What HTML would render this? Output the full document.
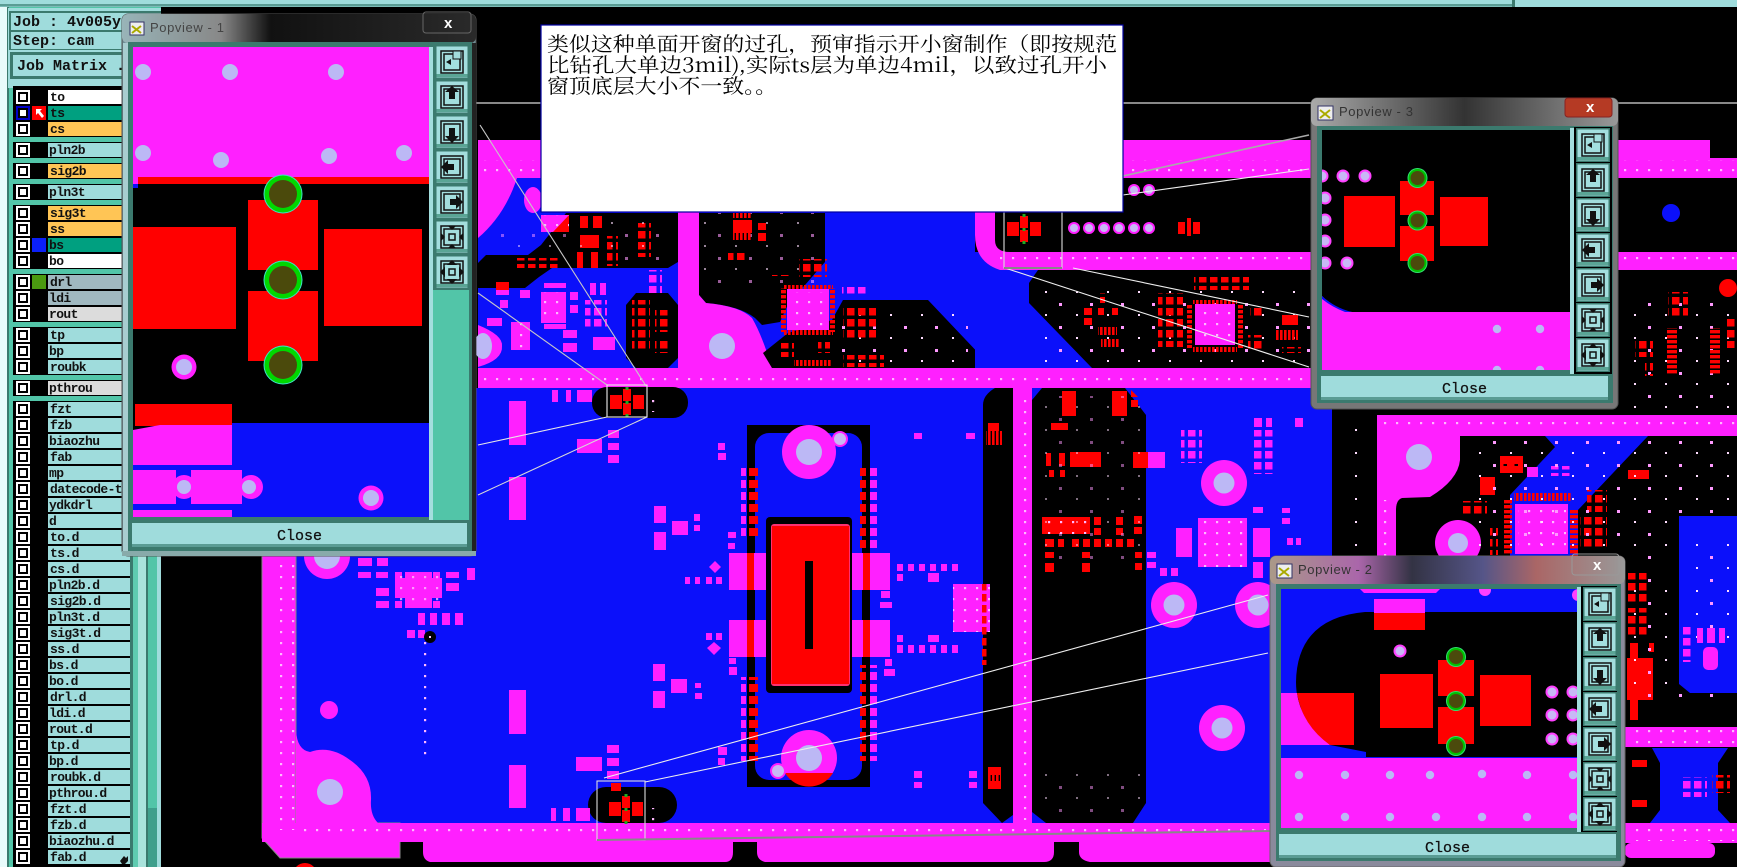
<!DOCTYPE html>
<html><head><meta charset="utf-8"><style>
html,body{margin:0;padding:0;background:#000;overflow:hidden}
svg{display:block}
.r{font:bold 13px "Liberation Mono",monospace;letter-spacing:-.6px;fill:#111}
.m{font:bold 15px "Liberation Mono",monospace;fill:#111}
.c{font:15px "Liberation Mono",monospace;fill:#111;stroke:#111;stroke-width:.3}
.t{font:13px "Liberation Sans",sans-serif;letter-spacing:.6px;fill:#333}
.z{font:20px "Noto Serif CJK SC","Liberation Serif",serif;fill:#000}
</style></head><body>
<svg xmlns="http://www.w3.org/2000/svg" width="1737" height="867" viewBox="0 0 1737 867">
<defs>
<pattern id="wd" width="12" height="11" patternUnits="userSpaceOnUse"><rect x="4" y="4" width="2.2" height="2.2" fill="#ffb8ff"/></pattern>
<pattern id="pd" width="31" height="23" patternUnits="userSpaceOnUse"><rect x="5" y="4" width="3" height="3" fill="#f9f"/><rect x="22" y="15" width="2" height="2" fill="#fdf"/></pattern>
<pattern id="rg" width="11" height="11" patternUnits="userSpaceOnUse"><rect width="7.5" height="7.5" fill="#f00"/></pattern>
<pattern id="mg" width="11" height="11" patternUnits="userSpaceOnUse"><rect width="7.5" height="7.5" fill="#ff20ff"/></pattern>
<pattern id="rc" width="7" height="5" patternUnits="userSpaceOnUse"><rect width="7" height="3.4" fill="#f00"/></pattern>
<pattern id="rv" width="4" height="7" patternUnits="userSpaceOnUse"><rect width="2.6" height="7" fill="#f00"/></pattern>
<pattern id="p1" width="6" height="12" patternUnits="userSpaceOnUse"><rect width="6" height="8" fill="#f00"/></pattern>
<pattern id="p2" width="7" height="12" patternUnits="userSpaceOnUse"><rect width="7" height="8" fill="#ff20ff"/></pattern>
<linearGradient id="g1" x1="0" x2="1" y1="0" y2="0"><stop offset="0" stop-color="#98b4b8"/><stop offset=".28" stop-color="#888"/><stop offset=".42" stop-color="#111"/><stop offset="1" stop-color="#2a2a2a"/></linearGradient>
<linearGradient id="g3" x1="0" x2="1" y1="0" y2="0"><stop offset="0" stop-color="#aaa"/><stop offset=".5" stop-color="#333"/><stop offset="1" stop-color="#999"/></linearGradient>
<linearGradient id="g2" x1="0" x2="1" y1="0" y2="0"><stop offset="0" stop-color="#a98"/><stop offset=".25" stop-color="#a6a"/><stop offset=".4" stop-color="#334"/><stop offset=".6" stop-color="#558"/><stop offset=".75" stop-color="#a66"/><stop offset="1" stop-color="#999"/></linearGradient>
<symbol id="btn" width="34" height="34" viewBox="0 0 34 34">
<rect width="34" height="34" fill="#3b7a6e"/><rect x="1.5" y="1.5" width="31" height="31" fill="#a3dede"/><rect x="1.5" y="29" width="31" height="3" fill="#5aa595"/><rect x="6" y="6" width="22" height="22" fill="none" stroke="#111" stroke-width="1.5"/><rect x="9" y="9" width="16" height="16" fill="none" stroke="#111" stroke-width="1.5"/>
</symbol>
<symbol id="ic1" width="34" height="34" viewBox="0 0 34 34"><rect x="18" y="6" width="8" height="8" fill="#a3dede" stroke="#111"/><path d="M11 17l5-3v6z" fill="#111"/></symbol>
<symbol id="ic2" width="34" height="34" viewBox="0 0 34 34"><path d="M17 6l7 6h-4v7h-6v-7h-4z" fill="#111"/></symbol>
<symbol id="ic3" width="34" height="34" viewBox="0 0 34 34"><path d="M17 28l-7-7h4v-8h6v8h4z" fill="#111"/></symbol>
<symbol id="ic4" width="34" height="34" viewBox="0 0 34 34"><path d="M6 17l7-7v4h6v6h-6v4z" fill="#111"/></symbol>
<symbol id="ic5" width="34" height="34" viewBox="0 0 34 34"><path d="M28 17l-7-7v4h-6v6h6v4z" fill="#111"/></symbol>
<symbol id="ic6" width="34" height="34" viewBox="0 0 34 34"><path d="M6 13l4 4-4 4zM28 13l-4 4 4 4zM13 6l4 4 4-4zM13 28l4-4 4 4z" fill="#111"/><rect x="14" y="14" width="6" height="6" fill="none" stroke="#111" stroke-width="1.5"/></symbol>
<symbol id="ic7" width="34" height="34" viewBox="0 0 34 34"><path d="M5 17l5-5v10zM29 17l-5-5v10zM17 5l-5 5h10zM17 29l-5-5h10z" fill="#111"/><rect x="14" y="14" width="6" height="6" fill="none" stroke="#111" stroke-width="1.5"/></symbol>
<g id="via3"><circle r="19.5" fill="#3fe0c8"/><circle r="18.5" fill="#00d800"/><circle r="14" fill="#4b4a0c"/></g>
<g id="via2"><circle r="10" fill="#30e070"/><circle r="9" fill="#00c000"/><circle r="7" fill="#4b4a0c"/></g>
<g id="mini"><rect x="-17" y="-7" width="12" height="14" fill="#f00"/><rect x="-4" y="-13" width="8" height="12" fill="#f00"/><rect x="-4" y="1" width="8" height="12" fill="#f00"/><rect x="6" y="-7" width="11" height="14" fill="#f00"/><rect x="-1.5" y="-15" width="3" height="3" fill="#2a2"/><rect x="-1.5" y="-1" width="3" height="3" fill="#2a2"/><rect x="-1.5" y="12" width="3" height="3" fill="#2a2"/></g>
<g id="ring"><circle r="23" fill="#ff20ff"/><circle r="10.5" fill="#bcb8f5"/></g>
<g id="dot"><circle r="6.5" fill="#ff40ff"/><circle r="4.5" fill="#c8b8f5"/></g>
<g id="cb"><rect width="14" height="14" fill="#fff"/><rect x="2" y="2" width="10" height="10" fill="#000"/><rect x="4" y="4" width="6" height="6" fill="#fff"/></g>
</defs>

<rect width="1737" height="867" fill="#000"/>
<!-- top bars -->
<rect width="1737" height="7" fill="#9fdcdc"/><rect y="4" width="1512" height="2.5" fill="#5a9c94"/><rect x="1512" width="3" height="7" fill="#3b7a6e"/>
<rect x="160" y="102" width="1577" height="2" fill="#888"/>

<!-- BOARD upper -->
<rect x="478" y="140" width="1232" height="38" fill="#ff20ff"/><rect x="1700" y="158" width="37" height="20" fill="#ff20ff"/>
<rect x="478" y="178" width="200" height="190" fill="#0b10fa"/>
<path d="M478 178H517Q505 215 478 238Z" fill="#ff20ff"/><ellipse cx="533" cy="200" rx="9" ry="13" fill="#ff20ff"/>
<path d="M566 213H678V262L668 268H552L539 277L525 288H478V263L486 255H528L541 245Z" fill="#000"/>
<path d="M636 293H668L678 305V358L668 368H636L626 358V305Z" fill="#000"/>
<rect x="678" y="178" width="297" height="190" fill="#0b10fa"/>
<path d="M699 213H825V262L805 285L790 300L780 322L762 325L755 318Q740 306 706 303L699 295Z" fill="#000"/>
<path d="M678 178H699V295L706 303Q740 306 752 318Q762 335 772 368H678Z" fill="#ff20ff"/>
<circle cx="722" cy="346" r="13" fill="#bcb8f5"/>
<path d="M843 300H928L983 358L975 368H772L763 353L788 333L832 320Z" fill="#000"/>
<path d="M478 325Q503 335 502 346Q503 360 478 367Z" fill="#ff20ff"/><ellipse cx="483" cy="346" rx="9" ry="13" fill="#bcb8f5"/>
<rect x="1123" y="178" width="190" height="34" fill="#000"/>
<rect x="975" y="178" width="336" height="74" fill="#000"/>
<rect x="975" y="252" width="336" height="116" fill="#0b10fa"/>
<path d="M975 212H995V240Q995 252 1010 252H1311V270H1000Q975 262 975 235Z" fill="#ff20ff"/>
<path d="M1038 270H1311V368H1092L1029 303V283Z" fill="#000"/>
<rect x="478" y="368" width="833" height="20" fill="#ff20ff"/>

<!-- lower blue -->
<rect x="296" y="388" width="1036" height="435" fill="#0b10fa"/>
<path d="M262 556V838L280 858H400V823H296V556Z" fill="#ff20ff" stroke="#888" stroke-width="1"/>
<path d="M296 730Q297 750 310 752Q330 745 350 760Q372 775 371 800Q370 815 378 823H296Z" fill="#ff20ff"/>
<circle cx="330" cy="792" r="13" fill="#bcb8f5"/><circle cx="329" cy="710" r="9" fill="#ff20ff"/>
<circle cx="327" cy="556" r="23" fill="#ff20ff"/><path d="M314 556a13 13 0 0 0 26 0z" fill="#bcb8f5"/>
<rect x="262" y="823" width="1200" height="19" fill="#ff20ff"/>
<path d="M423 842H733V852Q733 862 725 862H430Q423 860 423 852ZM757 842H1054V852Q1054 862 1044 862H765Q757 860 757 852ZM1079 842H1270V862H1090Q1079 860 1079 852Z" fill="#ff20ff"/>
<rect x="278" y="565" width="20" height="265" fill="url(#wd)"/><rect x="296" y="826" width="970" height="12" fill="url(#wd)"/>
<rect x="478" y="160" width="830" height="16" fill="url(#wd)"/><rect x="478" y="371" width="830" height="15" fill="url(#wd)"/><rect x="1000" y="255" width="310" height="13" fill="url(#wd)"/>
<!-- pink specks on blue -->
<rect x="422" y="640" width="14" height="120" fill="url(#wd)"/><rect x="300" y="0" width="0" height="0"/>
<!-- black pillars -->
<path d="M995 388Q983 395 983 405V803L1002 823L1013 815V388Z" fill="#000"/><rect x="1013" y="388" width="19" height="435" fill="#ff20ff"/>
<path d="M1042 388H1125L1146 415V803L1133 823H1046L1032 812V400Z" fill="#000"/>
<rect x="1017" y="395" width="10" height="425" fill="url(#wd)"/>
<!-- pills -->
<rect x="592" y="387" width="96" height="31" rx="15" fill="#000"/><rect x="588" y="787" width="89" height="36" rx="18" fill="#000"/>
<!-- center part -->
<rect x="747" y="425" width="123" height="362" fill="#000"/><rect x="755" y="433" width="107" height="347" rx="14" fill="#0b10fa"/>
<circle cx="809" cy="452" r="27" fill="#ff20ff"/><circle cx="809" cy="452" r="13" fill="#bcb8f5"/>
<circle cx="809" cy="758" r="28" fill="#ff20ff"/><path d="M785 773a28 28 0 0 0 48 0z" fill="#f00"/><circle cx="809" cy="758" r="13" fill="#bcb8f5"/>
<circle cx="840" cy="439" r="7" fill="#c8b8f5" stroke="#ff20ff" stroke-width="2"/><circle cx="778" cy="771" r="7" fill="#c8b8f5" stroke="#ff20ff" stroke-width="2"/>
<rect x="729" y="553" width="161" height="37" fill="#ff20ff"/><rect x="729" y="620" width="161" height="37" fill="#ff20ff"/>
<rect x="747" y="553" width="7" height="37" fill="#f00"/><rect x="747" y="620" width="7" height="37" fill="#f00"/><rect x="863" y="553" width="7" height="37" fill="#f00"/><rect x="863" y="620" width="7" height="37" fill="#f00"/>
<rect x="766" y="517" width="86" height="176" rx="4" fill="#000"/><rect x="771" y="524" width="79" height="162" rx="3" fill="#ff3070"/><rect x="772" y="526" width="77" height="158" fill="#f00"/><rect x="805" y="561" width="8" height="88" fill="#000"/>
<rect x="741" y="465" width="5" height="72" fill="url(#p2)"/><rect x="749" y="465" width="9" height="72" fill="url(#p1)"/>
<rect x="741" y="677" width="5" height="84" fill="url(#p2)"/><rect x="749" y="677" width="9" height="84" fill="url(#p1)"/>
<rect x="860" y="465" width="6" height="84" fill="url(#p1)"/><rect x="870" y="465" width="7" height="84" fill="url(#p2)"/>
<rect x="860" y="665" width="6" height="96" fill="url(#p1)"/><rect x="870" y="665" width="7" height="96" fill="url(#p2)"/>
<!-- blue area parts -->
<g fill="#ff20ff">
<rect x="509" y="401" width="17" height="44"/><rect x="509" y="477" width="17" height="43"/><rect x="509" y="690" width="17" height="44"/><rect x="509" y="765" width="17" height="43"/>
<rect x="577" y="439" width="25" height="14"/><rect x="608" y="430" width="11" height="8"/><rect x="608" y="443" width="11" height="7"/><rect x="608" y="455" width="11" height="8"/>
<rect x="552" y="390" width="6" height="12"/><rect x="566" y="390" width="5" height="12"/><rect x="577" y="390" width="15" height="12"/>
<rect x="654" y="506" width="12" height="17"/><rect x="672" y="521" width="16" height="14"/><rect x="694" y="514" width="6" height="7"/><rect x="694" y="525" width="6" height="6"/><rect x="654" y="532" width="12" height="18"/>
<rect x="653" y="664" width="12" height="17"/><rect x="671" y="679" width="16" height="14"/><rect x="695" y="683" width="6" height="5"/><rect x="695" y="693" width="7" height="6"/><rect x="653" y="691" width="12" height="17"/>
<rect x="576" y="757" width="26" height="14"/><rect x="607" y="745" width="12" height="8"/><rect x="607" y="758" width="12" height="8"/><rect x="607" y="771" width="12" height="8"/>
<rect x="551" y="808" width="5" height="13"/><rect x="563" y="808" width="7" height="13"/><rect x="576" y="808" width="14" height="13"/>
<rect x="718" y="443" width="7" height="7"/><rect x="718" y="453" width="8" height="7"/>
<path d="M709 567l6-6 6 6-6 6z"/><path d="M707 648l7-6 7 6-7 7z"/>
<rect x="685" y="577" width="5" height="7"/><rect x="695" y="577" width="5" height="7"/><rect x="706" y="577" width="6" height="7"/><rect x="716" y="577" width="6" height="7"/>
<rect x="706" y="633" width="6" height="7"/><rect x="716" y="633" width="6" height="7"/>
<rect x="728" y="532" width="8" height="6"/><rect x="728" y="543" width="7" height="6"/><rect x="729" y="658" width="7" height="6"/><rect x="729" y="667" width="8" height="8"/>
<rect x="718" y="747" width="9" height="8"/><rect x="718" y="758" width="7" height="7"/>
<rect x="897" y="564" width="6" height="7"/><rect x="908" y="564" width="6" height="7"/><rect x="919" y="564" width="6" height="7"/><rect x="930" y="564" width="6" height="7"/><rect x="941" y="564" width="6" height="7"/><rect x="952" y="564" width="6" height="7"/>
<rect x="897" y="574" width="6" height="7"/><rect x="928" y="573" width="11" height="9"/>
<rect x="897" y="645" width="6" height="8"/><rect x="908" y="645" width="6" height="8"/><rect x="919" y="645" width="6" height="8"/><rect x="930" y="645" width="6" height="8"/><rect x="941" y="645" width="6" height="8"/><rect x="952" y="645" width="6" height="8"/>
<rect x="897" y="635" width="6" height="7"/><rect x="928" y="635" width="11" height="7"/>
<rect x="881" y="591" width="9" height="7"/><rect x="880" y="602" width="12" height="6"/><rect x="885" y="659" width="7" height="7"/><rect x="884" y="669" width="11" height="7"/>
<rect x="953" y="584" width="37" height="48"/>
<rect x="914" y="433" width="8" height="6"/><rect x="966" y="433" width="9" height="6"/>
<rect x="914" y="771" width="8" height="7"/><rect x="914" y="782" width="8" height="6"/><rect x="969" y="771" width="8" height="7"/><rect x="969" y="782" width="8" height="6"/>
<!-- lower-left parts under popview 1 -->
<rect x="358" y="558" width="14" height="8"/><rect x="377" y="558" width="11" height="8"/><rect x="358" y="572" width="13" height="6"/><rect x="376" y="572" width="12" height="6"/>
<path d="M405 572H432V578H442V598H432V608H405V598H395V578H405Z"/>
<rect x="395" y="572" width="7" height="6"/><rect x="376" y="588" width="13" height="8"/><rect x="376" y="601" width="13" height="7"/><rect x="395" y="601" width="7" height="7"/><rect x="433" y="601" width="7" height="7"/><rect x="433" y="572" width="7" height="6"/>
<rect x="446" y="572" width="13" height="6"/><rect x="446" y="583" width="13" height="8"/><rect x="467" y="568" width="8" height="12"/>
<rect x="418" y="613" width="7" height="12"/><rect x="430" y="613" width="7" height="12"/><rect x="442" y="613" width="8" height="12"/><rect x="455" y="613" width="8" height="12"/>
<rect x="407" y="630" width="8" height="8"/><rect x="418" y="630" width="7" height="8"/>
<!-- right blue -->
<rect x="1176" y="528" width="16" height="29"/><rect x="1198" y="518" width="49" height="49"/><rect x="1253" y="528" width="17" height="29"/>
<rect x="1253" y="507" width="10" height="6"/><rect x="1282" y="508" width="8" height="5"/><rect x="1282" y="518" width="8" height="6"/>
<rect x="1253" y="562" width="10" height="16"/><rect x="1147" y="552" width="9" height="6"/><rect x="1147" y="562" width="9" height="6"/><rect x="1160" y="568" width="7" height="8"/><rect x="1171" y="568" width="7" height="8"/>
<rect x="1287" y="538" width="6" height="7"/><rect x="1296" y="538" width="5" height="7"/>
<rect x="1254" y="418" width="8" height="9"/><rect x="1266" y="418" width="6" height="9"/><rect x="1295" y="418" width="8" height="9"/>
</g>
<rect x="395" y="572" width="47" height="36" fill="url(#wd)" opacity=".8"/>
<circle cx="430" cy="637" r="6" fill="#000"/><rect x="429" y="636" width="2" height="2" fill="#fcf"/>
<rect x="953" y="584" width="37" height="48" fill="url(#wd)"/>
<rect x="982" y="584" width="8" height="81" fill="url(#rg)"/>
<rect x="1181" y="430" width="21" height="33" fill="url(#mg)"/><rect x="1254" y="430" width="22" height="44" fill="url(#mg)"/>
<rect x="1198" y="518" width="49" height="49" fill="url(#wd)"/>
<use href="#ring" x="1224" y="483"/><use href="#ring" x="1174" y="605"/><use href="#ring" x="1258" y="605"/><use href="#ring" x="1222" y="728"/>
<!-- middle black red -->
<rect x="988" y="423" width="11" height="8" fill="#f00"/><rect x="986" y="431" width="16" height="14" fill="url(#rv)"/>
<rect x="988" y="767" width="13" height="8" fill="#f00"/><rect x="988" y="775" width="13" height="6" fill="url(#rv)"/><rect x="988" y="781" width="13" height="8" fill="#f00"/>
<g fill="#f00">
<rect x="1070" y="452" width="31" height="15"/><rect x="1046" y="453" width="5" height="13"/><rect x="1059" y="453" width="6" height="13"/><rect x="1049" y="470" width="5" height="7"/><rect x="1060" y="470" width="5" height="7"/>
<rect x="1133" y="452" width="15" height="16"/><rect x="1042" y="517" width="48" height="17"/><rect x="1094" y="517" width="7" height="8"/><rect x="1094" y="528" width="7" height="7"/><rect x="1116" y="517" width="7" height="8"/><rect x="1116" y="528" width="7" height="7"/><rect x="1134" y="516" width="8" height="8"/><rect x="1134" y="527" width="8" height="7"/>
<rect x="1045" y="539" width="9" height="8"/><rect x="1058" y="539" width="6" height="8"/><rect x="1072" y="539" width="7" height="8"/><rect x="1083" y="539" width="7" height="8"/><rect x="1094" y="539" width="7" height="8"/><rect x="1105" y="539" width="7" height="8"/><rect x="1116" y="539" width="7" height="8"/><rect x="1127" y="539" width="7" height="8"/>
<rect x="1045" y="552" width="9" height="6"/><rect x="1045" y="563" width="9" height="9"/><rect x="1082" y="552" width="8" height="6"/><rect x="1082" y="563" width="8" height="9"/><rect x="1135" y="552" width="7" height="6"/><rect x="1135" y="563" width="7" height="7"/>
<rect x="1062" y="391" width="14" height="25"/><rect x="1112" y="391" width="15" height="25"/><path d="M1131 390L1138 397H1131Z"/><rect x="1131" y="400" width="7" height="7"/>
<rect x="1051" y="423" width="17" height="7"/>
</g>
<rect x="1148" y="452" width="17" height="16" fill="#ff20ff"/>
<rect x="1040" y="396" width="100" height="170" fill="url(#pd)" opacity=".5"/>
<rect x="1042" y="517" width="48" height="17" fill="url(#wd)"/>
<rect x="1040" y="770" width="100" height="50" fill="url(#pd)" opacity=".5"/>
<rect x="1332" y="388" width="45" height="170" fill="#000"/>
<rect x="1345" y="400" width="20" height="150" fill="url(#pd)"/>
<!-- upper right -->
<rect x="1618" y="178" width="119" height="74" fill="#000"/><circle cx="1671" cy="213" r="9" fill="#0b10fa"/>
<rect x="1311" y="252" width="426" height="18" fill="#ff20ff"/><rect x="1620" y="255" width="117" height="13" fill="url(#wd)"/><rect x="1620" y="160" width="117" height="16" fill="url(#wd)"/>
<rect x="1618" y="270" width="119" height="145" fill="#000"/><circle cx="1728" cy="288" r="9" fill="#f00"/>
<rect x="1311" y="388" width="21" height="22" fill="#0b10fa"/>
<rect x="1620" y="300" width="117" height="110" fill="url(#pd)"/>
<rect x="1667" y="328" width="10" height="47" fill="url(#rc)"/><rect x="1710" y="328" width="10" height="47" fill="url(#rc)"/>
<rect x="1668" y="292" width="20" height="26" fill="url(#rg)"/><rect x="1635" y="341" width="18" height="16" fill="url(#rg)"/><rect x="1645" y="360" width="8" height="16" fill="url(#rg)"/>
<rect x="1726" y="318" width="11" height="30" fill="url(#rg)"/>
<!-- lower right -->
<rect x="1377" y="415" width="360" height="21" fill="#ff20ff"/><rect x="1380" y="418" width="355" height="14" fill="url(#wd)"/>
<rect x="1396" y="436" width="341" height="291" fill="#000"/>
<path d="M1377 436H1460V460Q1458 480 1430 497L1402 498Q1396 500 1396 510V556H1377Z" fill="#ff20ff"/>
<circle cx="1419" cy="457" r="13" fill="#bcb8f5"/><rect x="1382" y="500" width="12" height="56" fill="url(#wd)"/>
<path d="M1545 436H1648L1578 510V556H1510V495L1555 447Z" fill="#0b10fa"/>
<rect x="1515" y="504" width="53" height="50" fill="#ff20ff"/><rect x="1518" y="508" width="48" height="44" fill="url(#wd)"/>
<rect x="1504" y="500" width="8" height="55" fill="url(#rc)"/><rect x="1570" y="510" width="8" height="46" fill="url(#rc)"/><rect x="1514" y="493" width="58" height="8" fill="url(#rv)"/>
<circle cx="1458" cy="543" r="23" fill="#ff20ff"/><circle cx="1458" cy="543" r="10" fill="#bcb8f5"/>
<rect x="1500" y="456" width="23" height="17" fill="url(#rg)"/>
<rect x="1500" y="456" width="23" height="8" fill="#f00"/><rect x="1500" y="466" width="23" height="7" fill="#f00"/>
<rect x="1480" y="477" width="15" height="18" fill="#f00"/><rect x="1628" y="470" width="21" height="9" fill="#f00"/>
<rect x="1460" y="501" width="27" height="13" fill="url(#rg)"/><rect x="1587" y="490" width="20" height="22" fill="url(#rg)"/><rect x="1490" y="525" width="8" height="30" fill="url(#rg)"/><rect x="1580" y="517" width="27" height="33" fill="url(#rg)"/>
<rect x="1548" y="466" width="22" height="10" fill="url(#mg)"/><rect x="1527" y="467" width="11" height="10" fill="#ff20ff"/>
<rect x="1627" y="573" width="23" height="30" fill="url(#rg)"/><rect x="1627" y="608" width="23" height="30" fill="url(#rg)"/>
<path d="M1630 643H1638V658H1653V700H1638V720H1630V700H1627V658H1630ZM1649 643H1654V652H1649Z" fill="#f00"/>
<rect x="1466" y="440" width="271" height="120" fill="url(#pd)"/>
<rect x="1625" y="570" width="112" height="130" fill="url(#pd)"/>
<path d="M1679 516H1737V693H1690L1679 684Z" fill="#0b10fa"/><rect x="1682" y="540" width="55" height="100" fill="url(#pd)"/>
<rect x="1683" y="625" width="9" height="37" fill="url(#mg)"/><rect x="1697" y="628" width="6" height="15" fill="#ff20ff"/><rect x="1707" y="628" width="8" height="15" fill="#ff20ff"/><rect x="1719" y="628" width="6" height="15" fill="#ff20ff"/><rect x="1703" y="647" width="15" height="23" rx="5" fill="#ff20ff"/>
<rect x="1625" y="727" width="112" height="20" fill="#ff20ff"/><rect x="1628" y="730" width="109" height="15" fill="url(#wd)"/>
<rect x="1625" y="747" width="112" height="76" fill="#000"/>
<path d="M1652 748H1728L1718 763V810L1730 823H1650L1660 810V763Z" fill="#0b10fa"/>
<rect x="1680" y="777" width="27" height="20" fill="url(#mg)"/><rect x="1712" y="775" width="18" height="18" fill="url(#rg)"/><rect x="1632" y="760" width="15" height="7" fill="#f00"/><rect x="1632" y="800" width="15" height="7" fill="#f00"/>
<rect x="1625" y="823" width="112" height="20" fill="#ff20ff"/><rect x="1625" y="843" width="90" height="15" rx="6" fill="#ff20ff"/><rect x="1628" y="825" width="109" height="16" fill="url(#wd)"/>
<!-- upper left parts -->
<path d="M541 215H569V232H541Z" fill="#ff20ff"/><path d="M553 232L569 215V232Z" fill="#f00"/><rect x="541" y="215" width="28" height="17" fill="url(#wd)"/>
<g fill="#f00"><rect x="580" y="216" width="8" height="12"/><rect x="593" y="216" width="9" height="12"/><rect x="580" y="235" width="19" height="13"/><rect x="577" y="252" width="6" height="16"/><rect x="591" y="252" width="7" height="16"/><rect x="496" y="282" width="13" height="8"/></g>
<rect x="496" y="290" width="13" height="5" fill="#ff20ff"/>
<rect x="517" y="258" width="41" height="10" fill="url(#rg)"/><rect x="607" y="236" width="11" height="30" fill="url(#rg)"/>
<rect x="635" y="223" width="16" height="34" fill="url(#rg)"/><rect x="632" y="300" width="18" height="50" fill="url(#rg)"/><rect x="655" y="310" width="14" height="22" fill="url(#rg)"/><rect x="655" y="338" width="14" height="15" fill="url(#rg)"/>
<rect x="541" y="292" width="25" height="31" fill="#ff20ff"/><rect x="541" y="292" width="25" height="31" fill="url(#wd)"/><rect x="544" y="283" width="22" height="5" fill="url(#rv)" opacity="0"/>
<rect x="511" y="322" width="19" height="28" fill="#ff20ff"/><rect x="511" y="322" width="19" height="28" fill="url(#wd)"/>
<g fill="#ff20ff"><rect x="544" y="283" width="22" height="5"/><rect x="544" y="324" width="22" height="5"/><rect x="563" y="330" width="14" height="8"/><rect x="563" y="343" width="14" height="9"/><rect x="593" y="337" width="22" height="13"/><rect x="590" y="283" width="6" height="12"/><rect x="600" y="283" width="6" height="12"/><rect x="570" y="292" width="8" height="8"/><rect x="570" y="305" width="8" height="8"/><rect x="500" y="300" width="8" height="8"/><rect x="520" y="290" width="10" height="8"/><rect x="487" y="318" width="15" height="8"/></g>
<rect x="648" y="270" width="14" height="23" fill="url(#mg)"/><rect x="585" y="300" width="22" height="30" fill="url(#mg)"/>
<rect x="500" y="230" width="90" height="24" fill="url(#pd)" opacity=".5"/><rect x="600" y="220" width="70" height="45" fill="url(#pd)" opacity=".6"/>
<!-- middle black region parts -->
<rect x="699" y="213" width="126" height="70" fill="url(#pd)" opacity=".6"/>
<rect x="733" y="213" width="18" height="5" fill="url(#rv)"/><rect x="733" y="220" width="19" height="13" fill="#f00"/><rect x="758" y="223" width="8" height="7" fill="#f00"/><rect x="758" y="233" width="8" height="8" fill="#f00"/><rect x="733" y="233" width="18" height="7" fill="url(#rv)"/>
<rect x="728" y="250" width="19" height="10" fill="url(#rg)"/><rect x="799" y="259" width="28" height="18" fill="url(#rg)"/><rect x="772" y="272" width="19" height="4" fill="url(#rg)"/>
<rect x="787" y="289" width="42" height="41" fill="#ff20ff"/><rect x="790" y="292" width="36" height="36" fill="url(#wd)"/>
<rect x="783" y="285" width="50" height="4" fill="url(#rv)"/><rect x="783" y="330" width="50" height="5" fill="url(#rv)"/><rect x="781" y="288" width="5" height="44" fill="url(#rc)"/><rect x="830" y="288" width="5" height="44" fill="url(#rc)"/>
<rect x="842" y="287" width="26" height="10" fill="url(#mg)"/>
<rect x="838" y="306" width="130" height="60" fill="url(#pd)"/>
<rect x="843" y="308" width="33" height="32" fill="url(#rg)"/><rect x="780" y="343" width="14" height="14" fill="url(#rg)"/><rect x="794" y="360" width="38" height="6" fill="url(#rv)"/><rect x="818" y="342" width="12" height="11" fill="url(#rg)"/><rect x="843" y="355" width="41" height="12" fill="url(#rg)"/>
<!-- right upper black parts -->
<rect x="1040" y="285" width="270" height="80" fill="url(#pd)"/>
<rect x="1084" y="308" width="8" height="7" fill="#f00"/><rect x="1098" y="308" width="6" height="7" fill="#f00"/><rect x="1112" y="308" width="6" height="7" fill="#f00"/><rect x="1084" y="318" width="8" height="7" fill="#f00"/><rect x="1098" y="327" width="19" height="8" fill="url(#rv)"/><rect x="1101" y="339" width="19" height="8" fill="url(#rv)"/><rect x="1098" y="293" width="7" height="10" fill="url(#rg)"/>
<rect x="1195" y="304" width="40" height="41" fill="#ff20ff"/><rect x="1197" y="306" width="36" height="36" fill="url(#wd)"/><rect x="1193" y="300" width="44" height="4" fill="url(#rv)"/><rect x="1193" y="347" width="44" height="5" fill="url(#rv)"/><rect x="1187" y="304" width="5" height="44" fill="url(#rc)"/><rect x="1238" y="304" width="5" height="44" fill="url(#rc)"/>
<rect x="1158" y="293" width="25" height="54" fill="url(#rg)"/><rect x="1194" y="277" width="55" height="13" fill="url(#rg)"/><rect x="1250" y="305" width="14" height="12" fill="url(#rg)"/><rect x="1248" y="335" width="14" height="14" fill="url(#rg)"/>
<rect x="1282" y="315" width="16" height="10" fill="#f00"/><rect x="1276" y="330" width="22" height="10" fill="url(#rv)"/><rect x="1282" y="347" width="19" height="6" fill="url(#rg)"/>
<!-- mini pads on board -->
<use href="#mini" x="627" y="402"/><use href="#mini" x="626" y="809"/><use href="#mini" x="1024" y="229"/>
<rect x="649" y="398" width="14" height="14" fill="url(#wd)"/><rect x="650" y="808" width="12" height="14" fill="url(#wd)"/>
<rect x="611" y="783" width="10" height="8" fill="#f00"/>
<g fill="#f00"><rect x="1178" y="222" width="7" height="12"/><rect x="1187" y="218" width="4" height="18"/><rect x="1193" y="222" width="7" height="12"/></g>
<g><circle cx="1074" cy="228" r="5" fill="#c8b8f5" stroke="#ff20ff" stroke-width="2"/><circle cx="1089" cy="228" r="5" fill="#c8b8f5" stroke="#ff20ff" stroke-width="2"/><circle cx="1104" cy="228" r="5" fill="#c8b8f5" stroke="#ff20ff" stroke-width="2"/><circle cx="1119" cy="228" r="5" fill="#c8b8f5" stroke="#ff20ff" stroke-width="2"/><circle cx="1134" cy="228" r="5" fill="#c8b8f5" stroke="#ff20ff" stroke-width="2"/><circle cx="1149" cy="228" r="5" fill="#c8b8f5" stroke="#ff20ff" stroke-width="2"/>
<circle cx="1134" cy="190" r="5" fill="#c8b8f5" stroke="#ff20ff" stroke-width="2"/><circle cx="1149" cy="190" r="5" fill="#c8b8f5" stroke="#ff20ff" stroke-width="2"/></g>
<!-- leader lines -->
<g fill="none" stroke-width="1.1">
<path d="M480 125L646 386" stroke="#c8c8c8"/><path d="M478 293L607 385" stroke="#c8c8c8"/><path d="M478 445L607 417" stroke="#e8e8e8"/><path d="M478 495L647 417" stroke="#d8d8d8"/>
<rect x="607" y="385" width="40" height="32" stroke="#eee"/>
<rect x="1004" y="212" width="58" height="56" stroke="#ddd"/>
<path d="M1005 268L1309 367" stroke="#eee"/><path d="M1073 268L1309 317" stroke="#eee"/><path d="M1123 176L1309 135" stroke="#aaa" stroke-width="1.6"/><path d="M1123 195L1309 169" stroke="#eee"/>
<path d="M1004 268H1062" stroke="#888" stroke-width="2"/>
<rect x="597" y="781" width="48" height="59" stroke="#ddd"/>
<path d="M604 778L1268 595" stroke="#eee"/><path d="M645 782L1268 653" stroke="#eee"/><path d="M597 840L1270 831" stroke="#888" stroke-width="2"/>
</g>

<!-- LEFT PANEL -->
<rect x="0" y="7" width="7" height="860" fill="#e8fbfb"/><rect x="7" y="7" width="2" height="860" fill="#3b7a6e"/><rect x="9" y="7" width="152" height="860" fill="#52c5a8"/>
<rect x="8" y="8" width="153" height="80" fill="#9fdcdc"/>
<rect x="9" y="11" width="152" height="39" fill="#3b7a6e"/><rect x="11" y="13" width="150" height="17" fill="#9fdcdc"/><rect x="11" y="32" width="150" height="17" fill="#9fdcdc"/>
<text class="m" x="13" y="26">Job : 4v005y</text><text class="m" x="13" y="45">Step: cam</text>
<rect x="10" y="52" width="151" height="27" fill="#3b7a6e"/><rect x="13" y="55" width="148" height="21" fill="#9fdcdc"/>
<text class="m" x="17" y="70">Job Matrix .</text>
<rect x="13" y="86" width="117" height="781" fill="#000"/>
<rect x="130" y="86" width="3" height="781" fill="#3b7a6e"/><rect x="133" y="86" width="5" height="781" fill="#5fcbb0"/><rect x="138" y="86" width="8" height="781" fill="#a9e3dc"/><rect x="146" y="86" width="2" height="781" fill="#3b7a6e"/><rect x="148" y="86" width="9" height="722" fill="#52c5a8"/><rect x="148" y="808" width="9" height="59" fill="#3f9f8c"/><rect x="157" y="86" width="4" height="781" fill="#9fdcdc"/>
<g fill="#52c5a8"><rect x="13" y="137" width="117" height="5"/><rect x="13" y="158" width="117" height="5"/><rect x="13" y="179" width="117" height="5"/><rect x="13" y="200" width="117" height="5"/><rect x="13" y="269" width="117" height="5"/><rect x="13" y="322" width="117" height="5"/><rect x="13" y="375" width="117" height="5"/><rect x="13" y="396" width="117" height="5"/></g>
<g fill="#9fdcdc">
<rect x="48" y="143" width="82" height="14"/><rect x="48" y="185" width="82" height="14"/><rect x="48" y="328" width="82" height="14"/><rect x="48" y="344" width="82" height="14"/><rect x="48" y="360" width="82" height="14"/>
<rect x="48" y="402" width="82" height="14"/><rect x="48" y="418" width="82" height="14"/><rect x="48" y="434" width="82" height="14"/><rect x="48" y="450" width="82" height="14"/><rect x="48" y="466" width="82" height="14"/><rect x="48" y="482" width="82" height="14"/><rect x="48" y="498" width="82" height="14"/><rect x="48" y="514" width="82" height="14"/><rect x="48" y="530" width="82" height="14"/><rect x="48" y="546" width="82" height="14"/><rect x="48" y="562" width="82" height="14"/><rect x="48" y="578" width="82" height="14"/><rect x="48" y="594" width="82" height="14"/><rect x="48" y="610" width="82" height="14"/><rect x="48" y="626" width="82" height="14"/><rect x="48" y="642" width="82" height="14"/><rect x="48" y="658" width="82" height="14"/><rect x="48" y="674" width="82" height="14"/><rect x="48" y="690" width="82" height="14"/><rect x="48" y="706" width="82" height="14"/><rect x="48" y="722" width="82" height="14"/><rect x="48" y="738" width="82" height="14"/><rect x="48" y="754" width="82" height="14"/><rect x="48" y="770" width="82" height="14"/><rect x="48" y="786" width="82" height="14"/><rect x="48" y="802" width="82" height="14"/><rect x="48" y="818" width="82" height="14"/><rect x="48" y="834" width="82" height="14"/><rect x="48" y="850" width="82" height="14"/>
</g>
<rect x="48" y="90" width="82" height="14" fill="#fff"/><rect x="48" y="106" width="82" height="14" fill="#00a080"/><rect x="48" y="122" width="82" height="14" fill="#ffc555"/>
<rect x="48" y="164" width="82" height="14" fill="#ffc555"/><rect x="48" y="206" width="82" height="14" fill="#ffc555"/><rect x="48" y="222" width="82" height="14" fill="#ffc555"/><rect x="48" y="238" width="82" height="14" fill="#00a080"/><rect x="48" y="254" width="82" height="14" fill="#fff"/>
<rect x="48" y="275" width="82" height="14" fill="#a0b8c0"/><rect x="48" y="291" width="82" height="14" fill="#a0b8c0"/><rect x="48" y="307" width="82" height="14" fill="#dcdcdc"/><rect x="48" y="381" width="82" height="14" fill="#dcdcdc"/>
<pattern id="ck" width="14" height="16" patternUnits="userSpaceOnUse" x="16" y="450"><rect width="14" height="14" fill="#fff"/><rect x="2" y="2" width="10" height="10" fill="#000"/><rect x="4" y="4" width="6" height="6" fill="#fff"/></pattern>
<rect x="16" y="402" width="14" height="462" fill="url(#ck)"/>
<use href="#cb" x="16" y="90"/><use href="#cb" x="16" y="122"/><use href="#cb" x="16" y="143"/><use href="#cb" x="16" y="164"/><use href="#cb" x="16" y="185"/><use href="#cb" x="16" y="206"/><use href="#cb" x="16" y="222"/><use href="#cb" x="16" y="238"/><use href="#cb" x="16" y="254"/><use href="#cb" x="16" y="275"/><use href="#cb" x="16" y="291"/><use href="#cb" x="16" y="307"/><use href="#cb" x="16" y="328"/><use href="#cb" x="16" y="344"/><use href="#cb" x="16" y="360"/><use href="#cb" x="16" y="381"/>
<rect x="16" y="106" width="14" height="14" fill="#0000c8"/><rect x="18" y="108" width="10" height="10" fill="#000"/><rect x="20" y="110" width="6" height="6" fill="#fff"/>
<rect x="32" y="106" width="14" height="14" fill="#f00"/><path d="M36 109h6l-2 2 4 5-2 2-4-5-2 2z" fill="#fff"/>
<rect x="32" y="238" width="14" height="14" fill="#0b20f8"/><rect x="32" y="275" width="14" height="14" fill="#4a9a10"/>
<text class="r" x="50" y="101">to</text><text class="r" x="50" y="117">ts</text><text class="r" x="50" y="133">cs</text><text class="r" x="49" y="154">pln2b</text><text class="r" x="50" y="175">sig2b</text><text class="r" x="49" y="196">pln3t</text><text class="r" x="50" y="217">sig3t</text><text class="r" x="50" y="233">ss</text><text class="r" x="49" y="249">bs</text><text class="r" x="49" y="265">bo</text><text class="r" x="50" y="286">drl</text><text class="r" x="49" y="302">ldi</text><text class="r" x="49" y="318">rout</text><text class="r" x="50" y="339">tp</text><text class="r" x="49" y="355">bp</text><text class="r" x="50" y="371">roubk</text><text class="r" x="49" y="392">pthrou</text>
<text class="r" x="50" y="413">fzt</text><text class="r" x="50" y="429">fzb</text><text class="r" x="49" y="445">biaozhu</text><text class="r" x="50" y="461">fab</text><text class="r" x="49" y="477">mp</text><text class="r" x="50" y="493">datecode-to</text><text class="r" x="49" y="509">ydkdrl</text><text class="r" x="49" y="525">d</text><text class="r" x="50" y="541">to.d</text><text class="r" x="50" y="557">ts.d</text><text class="r" x="50" y="573">cs.d</text><text class="r" x="49" y="589">pln2b.d</text><text class="r" x="50" y="605">sig2b.d</text><text class="r" x="49" y="621">pln3t.d</text><text class="r" x="50" y="637">sig3t.d</text><text class="r" x="50" y="653">ss.d</text><text class="r" x="49" y="669">bs.d</text><text class="r" x="49" y="685">bo.d</text><text class="r" x="50" y="701">drl.d</text><text class="r" x="49" y="717">ldi.d</text><text class="r" x="49" y="733">rout.d</text><text class="r" x="50" y="749">tp.d</text><text class="r" x="49" y="765">bp.d</text><text class="r" x="50" y="781">roubk.d</text><text class="r" x="49" y="797">pthrou.d</text><text class="r" x="50" y="813">fzt.d</text><text class="r" x="50" y="829">fzb.d</text><text class="r" x="49" y="845">biaozhu.d</text><text class="r" x="50" y="861">fab.d</text>
<path d="M120 861l4-5 2 2 2-2v5l-3 3h-3z" fill="#111"/>
<circle cx="305" cy="875" r="12" fill="#f00"/>

<!-- text box -->
<rect x="541" y="25" width="582" height="187" fill="#fff" stroke="#0000a0" stroke-width="1.2"/>
<text class="z" x="547" y="51" textLength="570" lengthAdjust="spacingAndGlyphs">类似这种单面开窗的过孔，预审指示开小窗制作（即按规范</text>
<text class="z" x="547" y="72" textLength="560" lengthAdjust="spacingAndGlyphs">比钻孔大单边3mil),实际ts层为单边4mil，以致过孔开小</text>
<text class="z" x="547" y="93" textLength="230" lengthAdjust="spacingAndGlyphs">窗顶底层大小不一致。。</text>

<!-- POPVIEW 1 -->
<rect x="122" y="14" width="354" height="542" rx="6" fill="#6f8e96" stroke="#555"/>
<rect x="122" y="14" width="354" height="29" rx="6" fill="url(#g1)"/>
<rect x="123" y="43" width="5" height="510" fill="#a8cdd0"/><rect x="472" y="43" width="4" height="510" fill="#222"/><rect x="122" y="551" width="354" height="5" fill="#8aa"/>
<rect x="130" y="22" width="14" height="13" fill="#eee" stroke="#336"/><path d="M132 26l9 7M141 26l-9 7" stroke="#aa0" stroke-width="2"/>
<text class="t" x="150" y="32" style="fill:#444">Popview - 1</text>
<rect x="423" y="12" width="48" height="21" rx="3" fill="none" stroke="#666"/><text x="444" y="28" style="font:bold 15px 'Liberation Sans',sans-serif;fill:#fff">x</text>
<rect x="128" y="42" width="344" height="509" fill="#3b7a6e"/>
<svg x="133" y="47" width="296" height="470" viewBox="133 47 296 470">
<rect x="133" y="47" width="296" height="470" fill="#000"/>
<rect x="133" y="47" width="296" height="130" fill="#ff20ff"/><rect x="138" y="177" width="291" height="7" fill="#f00"/><rect x="133" y="177" width="5" height="7" fill="#ff20ff"/><rect x="133" y="184" width="5" height="4" fill="#0b10fa"/>
<g fill="#bcb8f5"><circle cx="143" cy="72" r="8"/><circle cx="230" cy="72" r="8"/><circle cx="336" cy="72" r="8"/><circle cx="143" cy="153" r="8"/><circle cx="221" cy="160" r="8"/><circle cx="329" cy="156" r="8"/><circle cx="404" cy="153" r="8"/></g>
<rect x="133" y="227" width="103" height="102" fill="#f00"/><rect x="324" y="229" width="98" height="97" fill="#f00"/><rect x="248" y="200" width="70" height="70" fill="#f00"/><rect x="248" y="291" width="70" height="70" fill="#f00"/>
<use href="#via3" x="283" y="194"/><use href="#via3" x="283" y="280"/><use href="#via3" x="283" y="365"/>
<circle cx="184" cy="367" r="12.5" fill="#ff20ff"/><circle cx="184" cy="367" r="8" fill="#bcb8f5"/>
<rect x="135" y="404" width="97" height="22" fill="#f00"/><rect x="232" y="423" width="197" height="94" fill="#0b10fa"/><path d="M133 430L160 425H232V465H133Z" fill="#ff20ff"/>
<rect x="133" y="465" width="99" height="52" fill="#0b10fa"/>
<rect x="133" y="470" width="43" height="34" fill="#ff20ff"/><rect x="191" y="470" width="51" height="34" fill="#ff20ff"/><rect x="133" y="510" width="99" height="7" fill="#ff20ff"/>
<circle cx="184" cy="487" r="12" fill="#ff20ff"/><circle cx="184" cy="487" r="7" fill="#bcb8f5"/><circle cx="251" cy="487" r="12" fill="#ff20ff"/><circle cx="249" cy="487" r="7" fill="#bcb8f5"/>
<circle cx="371" cy="498" r="12.5" fill="#ff20ff"/><circle cx="371" cy="498" r="8" fill="#bcb8f5"/>
</svg>
<rect x="429" y="47" width="4" height="473" fill="#a3dede"/><rect x="433" y="290" width="36" height="230" fill="#52c5a8"/><rect x="433" y="44" width="36" height="246" fill="#3b7a6e"/>
<use href="#btn" x="435" y="45"/><use href="#btn" x="435" y="80"/><use href="#btn" x="435" y="115"/><use href="#btn" x="435" y="150"/><use href="#btn" x="435" y="185"/><use href="#btn" x="435" y="220"/><use href="#btn" x="435" y="255"/>
<use href="#ic1" x="435" y="45"/><use href="#ic2" x="435" y="80"/><use href="#ic3" x="435" y="115"/><use href="#ic4" x="435" y="150"/><use href="#ic5" x="435" y="185"/><use href="#ic6" x="435" y="220"/><use href="#ic7" x="435" y="255"/>
<rect x="130" y="520" width="340" height="30" fill="#3b7a6e"/><rect x="132" y="523" width="335" height="24" fill="#9fdcdc"/><rect x="132" y="544" width="335" height="3" fill="#5a9c94"/>
<text class="c" x="277" y="540">Close</text>

<!-- POPVIEW 3 -->
<rect x="1311" y="98" width="307" height="311" rx="6" fill="#777" stroke="#555"/>
<rect x="1311" y="98" width="307" height="28" rx="6" fill="url(#g3)"/>
<rect x="1318" y="106" width="15" height="14" fill="#eee" stroke="#336"/><path d="M1320 110l10 8M1330 110l-10 8" stroke="#aa0" stroke-width="2"/>
<text class="t" x="1339" y="116">Popview - 3</text>
<rect x="1565" y="98" width="47" height="19" rx="3" fill="#b53a24" stroke="#822"/><text x="1586" y="112" style="font:bold 15px 'Liberation Sans',sans-serif;fill:#fff">x</text>
<rect x="1317" y="126" width="296" height="277" fill="#3b7a6e"/>
<svg x="1322" y="130" width="248" height="240" viewBox="1322 130 248 240">
<rect x="1322" y="130" width="248" height="240" fill="#000"/>
<path d="M1322 296Q1335 310 1352 312H1570V370H1322Z" fill="#ff20ff"/><path d="M1322 296Q1335 308 1352 312H1345Q1332 307 1322 299Z" fill="#0b10fa"/>
<rect x="1344" y="196" width="51" height="51" fill="#f00"/><rect x="1440" y="197" width="48" height="49" fill="#f00"/><rect x="1400" y="181" width="34" height="34" fill="#f00"/><rect x="1400" y="226" width="34" height="35" fill="#f00"/>
<use href="#via2" x="1417.5" y="178"/><use href="#via2" x="1417.5" y="220.5"/><use href="#via2" x="1417.5" y="263"/>
<use href="#dot" x="1322" y="176"/><use href="#dot" x="1343" y="176"/><use href="#dot" x="1365" y="176"/><use href="#dot" x="1325" y="198"/><use href="#dot" x="1325" y="220"/><use href="#dot" x="1325" y="241"/><use href="#dot" x="1325" y="263"/><use href="#dot" x="1347" y="263"/>
<g fill="#bcb8f5"><circle cx="1497" cy="329" r="4.2"/><circle cx="1540" cy="329" r="4.2"/><circle cx="1497" cy="370" r="4.2"/><circle cx="1540" cy="370" r="4.2"/></g>
</svg>
<rect x="1570" y="128" width="4" height="246" fill="#a3dede"/><rect x="1574" y="127" width="38" height="247" fill="#000"/>
<use href="#btn" x="1576" y="128"/><use href="#btn" x="1576" y="163"/><use href="#btn" x="1576" y="198"/><use href="#btn" x="1576" y="233"/><use href="#btn" x="1576" y="268"/><use href="#btn" x="1576" y="303"/><use href="#btn" x="1576" y="338"/>
<use href="#ic1" x="1576" y="128"/><use href="#ic2" x="1576" y="163"/><use href="#ic3" x="1576" y="198"/><use href="#ic4" x="1576" y="233"/><use href="#ic5" x="1576" y="268"/><use href="#ic6" x="1576" y="303"/><use href="#ic7" x="1576" y="338"/>
<rect x="1319" y="374" width="293" height="28" fill="#3b7a6e"/><rect x="1321" y="376" width="287" height="24" fill="#9fdcdc"/><rect x="1321" y="397" width="287" height="3" fill="#5a9c94"/>
<text class="c" x="1442" y="393">Close</text>

<!-- POPVIEW 2 -->
<rect x="1270" y="556" width="355" height="311" rx="6" fill="#8a8a9c" stroke="#666"/>
<rect x="1270" y="556" width="355" height="28" rx="6" fill="url(#g2)"/>
<rect x="1277" y="564" width="15" height="14" fill="#eee" stroke="#336"/><path d="M1279 568l10 8M1289 568l-10 8" stroke="#aa0" stroke-width="2"/>
<text class="t" x="1298" y="574">Popview - 2</text>
<rect x="1572" y="554" width="47" height="21" rx="3" fill="none" stroke="#999"/><text x="1593" y="570" style="font:bold 15px 'Liberation Sans',sans-serif;fill:#fff">x</text>
<rect x="1276" y="584" width="345" height="277" fill="#3b7a6e"/>
<svg x="1281" y="589" width="296" height="239" viewBox="1281 589 296 239">
<rect x="1281" y="589" width="296" height="239" fill="#0b10fa"/>
<path d="M1577 612H1365Q1297 618 1296 682Q1296 720 1330 745L1366 752V757H1577Z" fill="#000"/>
<path d="M1281 693H1297Q1300 720 1330 745H1281Z" fill="#ff20ff"/><path d="M1297 693H1354V745H1330Q1302 725 1297 693Z" fill="#f00"/>
<rect x="1374" y="599" width="51" height="14" fill="#ff20ff"/><rect x="1374" y="613" width="51" height="17" fill="#f00"/>
<path d="M1360 589H1440L1436 593H1364Z" fill="#ff20ff"/>
<circle cx="1485" cy="590" r="6" fill="#ff40ff"/><circle cx="1578" cy="595" r="6" fill="#ff40ff"/>
<rect x="1380" y="674" width="53" height="54" fill="#f00"/><rect x="1480" y="675" width="51" height="51" fill="#f00"/><rect x="1438" y="660" width="36" height="36" fill="#f00"/><rect x="1438" y="707" width="36" height="37" fill="#f00"/>
<use href="#via2" x="1456" y="657"/><use href="#via2" x="1456" y="701"/><use href="#via2" x="1456" y="746"/>
<use href="#dot" x="1400" y="651"/><use href="#dot" x="1552" y="692"/><use href="#dot" x="1552" y="715"/><use href="#dot" x="1552" y="739"/><use href="#dot" x="1573" y="692"/><use href="#dot" x="1573" y="715"/><use href="#dot" x="1573" y="739"/>
<rect x="1281" y="758" width="296" height="70" fill="#ff20ff"/>
<g fill="#bcb8f5"><circle cx="1299" cy="775" r="4.2"/><circle cx="1345" cy="775" r="4.2"/><circle cx="1390" cy="775" r="4.2"/><circle cx="1430" cy="775" r="4.2"/><circle cx="1482" cy="774" r="4.2"/><circle cx="1527" cy="775" r="4.2"/><circle cx="1573" cy="775" r="4.2"/><circle cx="1299" cy="817" r="4.2"/><circle cx="1345" cy="817" r="4.2"/><circle cx="1390" cy="817" r="4.2"/><circle cx="1436" cy="817" r="4.2"/><circle cx="1482" cy="817" r="4.2"/><circle cx="1527" cy="817" r="4.2"/><circle cx="1573" cy="817" r="4.2"/></g>
</svg>
<rect x="1577" y="587" width="4" height="245" fill="#a3dede"/><rect x="1581" y="586" width="36" height="246" fill="#000"/>
<use href="#btn" x="1583" y="587"/><use href="#btn" x="1583" y="622"/><use href="#btn" x="1583" y="657"/><use href="#btn" x="1583" y="692"/><use href="#btn" x="1583" y="727"/><use href="#btn" x="1583" y="762"/><use href="#btn" x="1583" y="797"/>
<use href="#ic1" x="1583" y="587"/><use href="#ic2" x="1583" y="622"/><use href="#ic3" x="1583" y="657"/><use href="#ic4" x="1583" y="692"/><use href="#ic5" x="1583" y="727"/><use href="#ic6" x="1583" y="762"/><use href="#ic7" x="1583" y="797"/>
<rect x="1277" y="832" width="340" height="29" fill="#3b7a6e"/><rect x="1279" y="834" width="337" height="24" fill="#9fdcdc"/><rect x="1279" y="855" width="337" height="3" fill="#5a9c94"/>
<text class="c" x="1425" y="852">Close</text>
</svg>
</body></html>
